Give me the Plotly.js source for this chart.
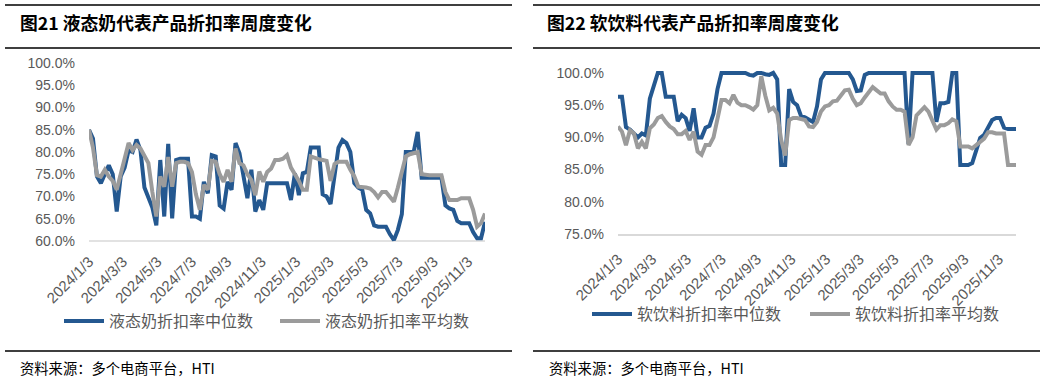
<!DOCTYPE html>
<html>
<head>
<meta charset="utf-8">
<script src="https://cdn.plot.ly/plotly-3.0.1.min.js"></script>
<style>html,body{margin:0;padding:0;background:#fff}#chart{width:1045px;height:379px}</style>
</head>
<body>
<div id="chart"></div>
<script>
// ---- data (weekly, starting 2024-01-03) ----
const startDate = '2024-01-03';
const weekCount = 101;

const tickDates = ['2024-01-03','2024-03-03','2024-05-03','2024-07-03','2024-09-03','2024-11-03',
                   '2025-01-03','2025-03-03','2025-05-03','2025-07-03','2025-09-03','2025-11-03'];
const tickLabels = ['2024/1/3','2024/3/3','2024/5/3','2024/7/3','2024/9/3','2024/11/3',
                    '2025/1/3','2025/3/3','2025/5/3','2025/7/3','2025/9/3','2025/11/3'];

// 液态奶 (%)
const milkMedian = [85,83,74.5,73,75,77,75,66.6,74.5,76.5,
  80.4,80,82.8,80.4,72,69.5,67.5,63.5,78.2,65.5,
  81.8,65.1,78.2,78.5,78.6,78.5,65.5,65.5,65,73.3,
  70.7,79.3,79,68,67.3,73.3,71.5,82,79.7,75,
  69.6,76,66.6,69.2,67,73,73,73,73,73,
  73,69.2,75.2,70.3,75.2,75.5,81,81,81,70.5,
  70,68.3,75,81,82.7,82,80,73,72,71.5,
  67,66.2,63.5,63.2,63.2,63.2,61.5,60.2,62.5,66,
  80,80,80,84.5,74.2,74.2,74.2,74.2,74.2,74.2,
  68,67.3,67,64.5,64,64,64,62,60.6,60.6,
  64.3];
const milkMean = [85,81,74.8,74.5,76,74.5,73.5,71.5,75,79,
  82,80.4,81.6,80.8,79,77.5,71,65.5,74.5,72.2,
  78.9,72.2,77.5,77.8,77.8,77.5,75.5,70.5,67,72.6,
  71.5,78,77.8,75,73.3,76,73.3,80.8,77.5,77,
  75,73.7,70.3,75.6,73.3,75.5,76.3,78.2,78.2,78.5,
  79.3,76.5,75,73.5,71.5,71.5,79,78.6,78.4,78.2,
  78,73.5,77.3,77.8,77.8,77.8,76,74.5,72.2,72.2,
  72,71.8,71,69.8,71,71,70,68.8,72,75.2,
  79,79.5,79.7,80,75,74.8,74.8,74.8,74.8,74.8,
  71,69.2,69.2,69.2,69.6,69.6,69.6,67,63.2,64,
  66.2];

// 软饮料 (%)
const drinkMedian = [96.3,96.3,91.6,91.2,90.6,90,90.6,90.3,96,98.2,
  100,100,96.3,96.3,96.3,92.5,93.5,93,91,94.5,
  90,90,91.5,91.8,93.7,97.5,100,100,100,100,
  100,100,100,99.7,99.6,100,100,99.8,99.7,100,
  99,85.7,85.7,97.5,95.5,95,93.3,93.1,92.8,92.4,
  94.8,99,100,100,100,100,100,100,100,99,
  97.2,97.3,99.7,100,100,100,100,100,100,100,
  100,100,100,89,100,100,100,100,100,100,
  92.4,95.3,95.3,95.5,100,100,85.7,85.7,85.7,86,
  88,89.9,90.4,91.5,92.7,93,93,91.5,91.3,91.3,
  91.3];
const drinkMean = [91.7,90.9,88.8,91.1,90.6,88.3,89.3,88.3,91.4,92,
  93,93.3,92.4,91.7,91.3,90.5,90.5,91,89.6,90.9,
  87.8,87.3,88.8,88.8,90,93,95.8,95.8,95.3,96.6,
  95.4,95,95,94.7,94.3,95,99.5,96.5,94.2,94.6,
  93.7,89.6,87.2,92.7,93,93,92.9,92.7,91.7,91.6,
  92.4,94,94.8,95,95.6,95.7,96.5,97.3,97.4,96,
  95,95.3,96.2,97,97.8,97.3,96.8,96.8,95.6,94.8,
  94.3,94.3,94,88.8,90,93.4,94,94.7,94,92.5,
  91.2,91.9,91.9,92.2,92.8,92.5,88.6,88.6,88.6,88.3,
  88.8,89.4,89.8,90.8,90.8,90.6,90.6,90.6,85.7,85.7,
  85.7];

// ---- weekly calendar ----
const dates = [];
{
  const d0 = new Date(startDate + 'T00:00:00Z');
  for (let i = 0; i < weekCount; i++) {
    const d = new Date(d0.getTime() + i * 7 * 86400000);
    dates.push(d.toISOString().slice(0, 10));
  }
}
const endDate = dates[dates.length - 1];

// ---- layout helpers (pixel -> paper) ----
const W = 1045, H = 379;
const px = x => x / W;
const py = y => 1 - y / H;

const BLUE = '#245890', GREY = '#9b9b9b';
const TICKFONT = {family: 'Liberation Sans, Arial, sans-serif', size: 14, color: '#595959'};
const XTICKFONT = {family: 'Liberation Sans, Arial, sans-serif', size: 15, color: '#595959'};
const CJK = 'Noto Sans CJK SC, sans-serif';

const traces = [
  {x: dates, y: milkMedian, name: '液态奶折扣率中位数', type: 'scatter', mode: 'lines',
   line: {color: BLUE, width: 4}, xaxis: 'x', yaxis: 'y', legend: 'legend'},
  {x: dates, y: milkMean, name: '液态奶折扣率平均数', type: 'scatter', mode: 'lines',
   line: {color: GREY, width: 4}, xaxis: 'x', yaxis: 'y', legend: 'legend'},
  {x: dates, y: drinkMedian, name: '软饮料折扣率中位数', type: 'scatter', mode: 'lines',
   line: {color: BLUE, width: 4}, xaxis: 'x2', yaxis: 'y2', legend: 'legend2'},
  {x: dates, y: drinkMean, name: '软饮料折扣率平均数', type: 'scatter', mode: 'lines',
   line: {color: GREY, width: 4}, xaxis: 'x2', yaxis: 'y2', legend: 'legend2'}
];

function xAxis(dom, anchor, standoff) {
  return {domain: dom, anchor: anchor, type: 'date', range: [startDate, endDate],
    tickmode: 'array', tickvals: tickDates, ticktext: tickLabels, tickangle: -45,
    tickfont: XTICKFONT, showgrid: false, zeroline: false, ticks: '', ticklabelstandoff: standoff,
    showline: false, fixedrange: true};
}
function yAxis(dom, anchor, range, t0) {
  return {domain: dom, anchor: anchor, range: range, tick0: t0, dtick: 5,
    tickformat: '.1f', ticksuffix: '%', tickfont: TICKFONT, showgrid: false,
    zeroline: false, ticks: '', ticklabelstandoff: 13, showline: false, fixedrange: true};
}

const ruleColor = '#3f3f3f';
function hline(x0, x1, y, color, w) {
  return {type: 'line', xref: 'paper', yref: 'paper', x0: px(x0), x1: px(x1), y0: py(y), y1: py(y),
    line: {color: color, width: w}};
}
const legendFont = {family: CJK, size: 16, color: '#595959'};

const layout = {
  width: W, height: H,
  margin: {l: 0, r: 0, t: 0, b: 0},
  paper_bgcolor: '#fff', plot_bgcolor: 'rgba(0,0,0,0)',
  showlegend: true,
  xaxis: xAxis([px(89), px(485)], 'y', 5),
  yaxis: yAxis([py(244.1), py(63)], 'x', [59.3, 100], 60),
  xaxis2: Object.assign(xAxis([px(618), px(1016)], 'y2', 9), {showline: true, linecolor: '#d9d9d9', linewidth: 1.5}),
  yaxis2: yAxis([py(234), py(69.1)], 'x2', [75, 100.6], 75),
  legend: {orientation: 'h', x: px(59), y: py(321), xanchor: 'left', yanchor: 'middle',
    font: legendFont, bgcolor: 'rgba(0,0,0,0)', itemwidth: 40, entrywidth: 161},
  legend2: {orientation: 'h', x: px(587), y: py(314), xanchor: 'left', yanchor: 'middle',
    font: legendFont, bgcolor: 'rgba(0,0,0,0)', itemwidth: 40, entrywidth: 163},
  shapes: [
    hline(5, 512, 5, ruleColor, 2),
    hline(5, 512, 48, ruleColor, 2),
    hline(5, 512, 351, ruleColor, 2),
    hline(533, 1040, 5, ruleColor, 2),
    hline(533, 1040, 48, ruleColor, 2),
    hline(533, 1040, 351, ruleColor, 2),
    {type: 'line', xref: 'x', yref: 'y', x0: startDate, x1: endDate, y0: 60, y1: 60,
     line: {color: '#d9d9d9', width: 1.5}, layer: 'below'}
  ],
  annotations: [
    {xref: 'paper', yref: 'paper', x: px(18), y: py(22), xanchor: 'left', yanchor: 'middle',
     text: '<b>图21 液态奶代表产品折扣率周度变化</b>', showarrow: false,
     font: {family: CJK, size: 17.8, color: '#000'}},
    {xref: 'paper', yref: 'paper', x: px(545), y: py(22), xanchor: 'left', yanchor: 'middle',
     text: '<b>图22 软饮料代表产品折扣率周度变化</b>', showarrow: false,
     font: {family: CJK, size: 17.8, color: '#000'}},
    {xref: 'paper', yref: 'paper', x: px(18), y: py(367), xanchor: 'left', yanchor: 'middle',
     text: '资料来源：多个电商平台，HTI', showarrow: false,
     font: {family: CJK, size: 14.3, color: '#000'}},
    {xref: 'paper', yref: 'paper', x: px(547), y: py(367), xanchor: 'left', yanchor: 'middle',
     text: '资料来源：多个电商平台，HTI', showarrow: false,
     font: {family: CJK, size: 14.3, color: '#000'}}
  ]
};

Plotly.newPlot('chart', traces, layout, {staticPlot: true, displayModeBar: false});
</script>
</body>
</html>
